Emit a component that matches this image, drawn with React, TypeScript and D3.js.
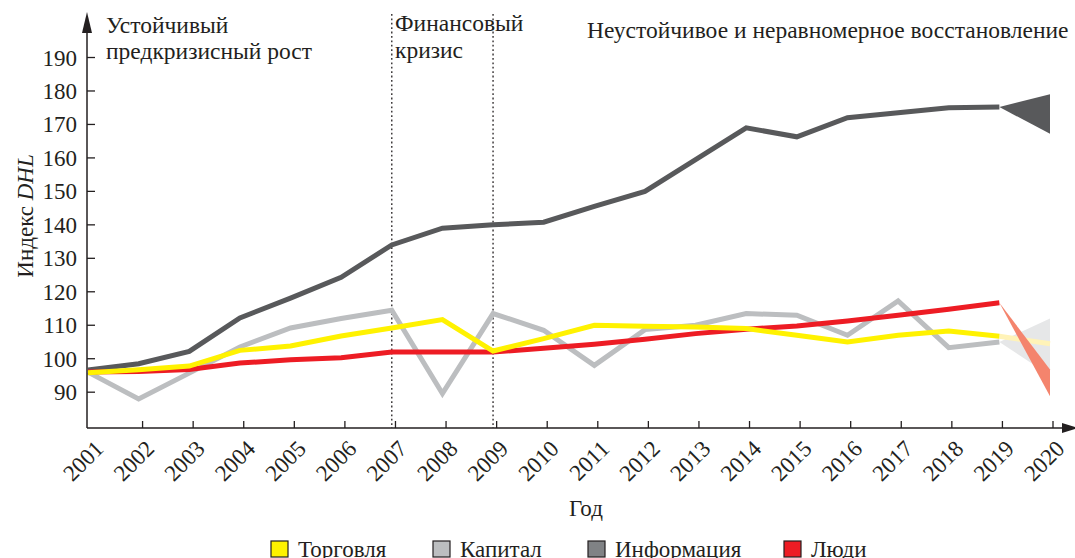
import React from "react";
import * as d3 from "d3";

// years on the x axis and the four DHL index series (2001-2019)
const years = [2001, 2002, 2003, 2004, 2005, 2006, 2007, 2008, 2009, 2010, 2011, 2012, 2013, 2014, 2015, 2016, 2017, 2018, 2019, 2020];
const trade = [95.8, 96.7, 97.8, 102.5, 103.8, 106.8, 109.2, 111.7, 102.3, 106, 110, 109.7, 109.5, 109, 107, 105, 107, 108.3, 106.7];
const capital = [96, 88, 95.7, 103.5, 109.2, 112, 114.5, 89.6, 113.5, 108.5, 98, 108.7, 110, 113.5, 113, 107, 117.3, 103.3, 105];
const information = [96.6, 98.5, 102.2, 112.2, 118.1, 124.3, 134, 139, 140, 140.8, 145.5, 150, 159.5, 169, 166.3, 172, 173.5, 175, 175.2];
const people = [96, 96.2, 96.8, 98.7, 99.7, 100.3, 102, 102, 102, 103.1, 104.3, 105.8, 107.5, 108.8, 109.8, 111.3, 113, 114.8, 116.7];

// 2020 forecasts: [low, high]
const tradeForecast = 104.5;
const capitalForecast = [95, 112];
const informationForecast = [167.2, 179];
const peopleForecast = [88.8, 96.8];

const yTicks = [90, 100, 110, 120, 130, 140, 150, 160, 170, 180, 190];
const crisisYears = [2007, 2009];

const legendItems = [
  { label: "Торговля", color: "#fff200" },
  { label: "Капитал", color: "#bcbec0" },
  { label: "Информация", color: "#808285" },
  { label: "Люди", color: "#ed1c24" },
];

const FONT = "'Liberation Serif', 'Times New Roman', serif";
const INK = "#231f20";

export default function App() {
  const width = 1075;
  const height = 558;

  const x = d3.scaleLinear().domain([2001, 2020]).range([88, 1050]);
  const xTick = d3.scaleLinear().domain([2001, 2020]).range([92, 1053]);
  const y = d3.scaleLinear().domain([79.3, 203]).range([428, 14]);

  const axisX = x(2001) - 1;
  const axisY = y(79.3);

  const line = d3
    .line<number>()
    .x((d, i) => x(years[i]))
    .y((d) => y(d));

  const wedge = (start: number, range: number[]) =>
    `M${x(2019)},${y(start)}L${x(2020)},${y(range[1])}L${x(2020)},${y(range[0])}Z`;

  const last = years.length - 2;

  return (
    <svg
      width={width}
      height={height}
      style={{ position: "absolute", left: 0, top: 0, fontFamily: FONT }}
    >
      {/* crisis markers */}
      {crisisYears.map((yr) => (
        <line
          key={yr}
          x1={x(yr)}
          x2={x(yr)}
          y1={14}
          y2={axisY}
          stroke={INK}
          strokeWidth={1.3}
          strokeDasharray="1.8,2.6"
        />
      ))}

      {/* forecasts */}
      <path d={wedge(capital[last], capitalForecast)} fill="#e6e7e8" />
      <path d={wedge(information[last], informationForecast)} fill="#58595b" />
      <line
        x1={x(2019)}
        y1={y(trade[last])}
        x2={x(2020)}
        y2={y(tradeForecast)}
        stroke="#fff3b8"
        strokeWidth={5}
      />
      <path d={wedge(people[last], peopleForecast)} fill="#f4846d" />

      {/* series */}
      <path d={line(capital) || ""} fill="none" stroke="#bcbec0" strokeWidth={5} />
      <path d={line(information) || ""} fill="none" stroke="#58595b" strokeWidth={5} />
      <path d={line(people) || ""} fill="none" stroke="#ed1c24" strokeWidth={5} />
      <path d={line(trade) || ""} fill="none" stroke="#fff200" strokeWidth={5} />

      {/* y axis */}
      <line x1={axisX} x2={axisX} y1={30} y2={axisY} stroke={INK} strokeWidth={1.5} />
      <path d={`M${axisX},12L${axisX + 5},33L${axisX - 5},33Z`} fill={INK} />
      {yTicks.map((t) => (
        <g key={t}>
          <line x1={axisX} x2={axisX + 8} y1={y(t)} y2={y(t)} stroke={INK} strokeWidth={1.3} />
          <text x={77} y={y(t)} dy="0.35em" textAnchor="end" fontSize={23} fill={INK}>
            {t}
          </text>
        </g>
      ))}
      <text transform={`translate(33,216) rotate(-90)`} textAnchor="middle" fontSize={23} fill={INK}>
        Индекс <tspan fontStyle="italic">DHL</tspan>
      </text>

      {/* x axis */}
      <line x1={axisX} x2={1064} y1={axisY} y2={axisY} stroke={INK} strokeWidth={1.5} />
      <path d={`M1078,${axisY}L1062,${axisY - 5}L1062,${axisY + 5}Z`} fill={INK} />
      {years.map((yr) => (
        <g key={yr}>
          {yr > 2001 && (
            <line x1={xTick(yr)} x2={xTick(yr)} y1={axisY} y2={axisY - 7} stroke={INK} strokeWidth={1.3} />
          )}
          <text
            transform={`translate(${xTick(yr) + 13},${axisY + 22}) rotate(-45)`}
            textAnchor="end"
            fontSize={23}
            fill={INK}
          >
            {yr}
          </text>
        </g>
      ))}
      <text x={586} y={516} textAnchor="middle" fontSize={23} fill={INK}>
        Год
      </text>

      {/* period annotations */}
      <text x={106} y={33} fontSize={23.5} fill={INK}>
        Устойчивый
      </text>
      <text x={106} y={59} fontSize={23.5} fill={INK}>
        предкризисный рост
      </text>
      <text x={395} y={31} fontSize={23.5} fill={INK}>
        Финансовый
      </text>
      <text x={395} y={58} fontSize={23.5} fill={INK}>
        кризис
      </text>
      <text x={587} y={38} fontSize={23.5} fill={INK}>
        Неустойчивое и неравномерное восстановление
      </text>

      {/* legend */}
      {legendItems.map((item, i) => {
        const lx = [271, 433, 588, 784][i];
        return (
          <g key={item.label}>
            <rect x={lx} y={541} width={17} height={16} fill={item.color} stroke={INK} strokeWidth={1.2} />
            <text x={lx + 27} y={557} fontSize={23} fill={INK}>
              {item.label}
            </text>
          </g>
        );
      })}
    </svg>
  );
}
